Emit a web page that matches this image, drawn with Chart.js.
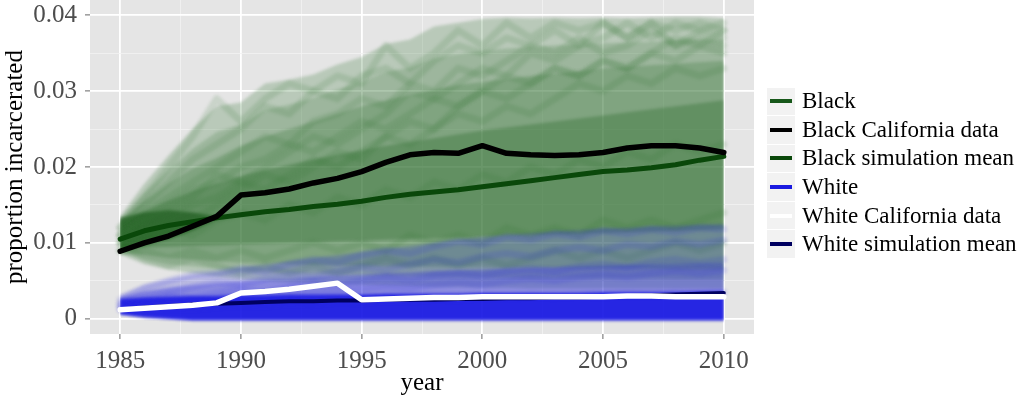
<!DOCTYPE html>
<html lang="en">
<head>
<meta charset="UTF-8">
<title>Proportion incarcerated</title>
<script src="https://cdn.jsdelivr.net/npm/chart.js@4.4.0/dist/chart.umd.min.js"></script>
<style>
  body { margin: 0; background: #fff; }
  #wrap { position: relative; width: 1024px; height: 398px; }
  #legend { position: absolute; left: 767px; top: 87px; font-family: "Liberation Serif", serif; font-size: 23px; color: #000; }
  .item { display: flex; align-items: center; height: 28.6px; white-space: nowrap; }
  .key { width: 28px; height: 27.6px; background: #f2f2f2; margin-right: 7px; display: flex; align-items: center; justify-content: center; }
  .key span { display: block; width: 22px; height: 4px; }
</style>
</head>
<body>
<div id="wrap">
  <canvas id="chart" width="1024" height="398"></canvas>
  <div id="legend"></div>
</div>
<script>
// years of the simulation / data
const years = [1985,1986,1987,1988,1989,1990,1991,1992,1993,1994,1995,1996,1997,
               1998,1999,2000,2001,2002,2003,2004,2005,2006,2007,2008,2009,2010];

const xTickLabels = [1985, 1990, 1995, 2000, 2005, 2010];
const yTickValues = [0, 0.01, 0.02, 0.03, 0.04];
const yTickLabels = ['0', '0.01', '0.02', '0.03', '0.04'];

// observed California data
const blackCA = [0.0089,0.0100,0.0109,0.0122,0.0135,0.0163,0.0166,0.0171,0.0179,0.0185,0.0194,0.0206,0.0216,
                 0.0219,0.0218,0.0228,0.0218,0.0216,0.0215,0.0216,0.0219,0.0225,0.0228,0.0228,0.0225,0.0219];
const whiteCA = [0.0012,0.0014,0.0016,0.0018,0.0021,0.0034,0.0036,0.0039,0.0043,0.0047,0.0025,0.0026,0.0027,
                 0.0028,0.0028,0.0029,0.0029,0.0029,0.0029,0.0029,0.0029,0.0030,0.0030,0.0029,0.0029,0.0029];

// simulation means
const blackMean = [0.0105,0.0116,0.0123,0.0128,0.0133,0.0137,0.0141,0.0144,0.0148,0.0151,0.0155,0.0160,0.0164,
                   0.0167,0.0170,0.0174,0.0178,0.0182,0.0186,0.0190,0.0194,0.0196,0.0199,0.0203,0.0209,0.0214];
const whiteMean = [0.0012,0.0015,0.0017,0.0019,0.0020,0.0021,0.0022,0.0023,0.0023,0.0024,0.0024,0.0025,0.0025,
                   0.0025,0.0026,0.0026,0.0027,0.0027,0.0028,0.0028,0.0029,0.0030,0.0031,0.0032,0.0033,0.0034];

// spread of the Black simulation runs (outer, upper, middle, dense, early core)
const blackOuterHi = [0.0135,0.0178,0.0215,0.0250,0.0280,0.0285,0.0310,0.0315,0.0322,0.0335,0.0345,0.0362,0.0368,
                      0.0385,0.0390,0.0395,0.0397,0.0396,0.0397,0.0396,0.0397,0.0396,0.0397,0.0398,0.0398,0.0396];
const blackOuterLo = [0.0085,0.0072,0.0065,0.0060,0.0056,0.0052,0.0050,0.0048,0.0047,0.0046,0.0045,0.0044,0.0043,
                      0.0042,0.0042,0.0041,0.0041,0.0040,0.0040,0.0040,0.0040,0.0040,0.0040,0.0040,0.0040,0.0040];
const blackUpperHi = [0.0133,0.0166,0.0196,0.0224,0.0246,0.0256,0.0275,0.0282,0.0291,0.0302,0.0312,0.0325,0.0331,
                      0.0343,0.0349,0.0353,0.0356,0.0358,0.0360,0.0361,0.0363,0.0364,0.0365,0.0367,0.0368,0.0368];
const blackUpperLo = [0.0086,0.0078,0.0072,0.0069,0.0066,0.0063,0.0061,0.0060,0.0059,0.0058,0.0057,0.0056,0.0056,
                      0.0055,0.0055,0.0054,0.0054,0.0053,0.0053,0.0053,0.0053,0.0053,0.0053,0.0052,0.0052,0.0052];
const blackMidHi = [0.0130,0.0155,0.0178,0.0198,0.0212,0.0228,0.0240,0.0250,0.0260,0.0270,0.0280,0.0288,0.0295,
                    0.0302,0.0308,0.0312,0.0316,0.0320,0.0323,0.0326,0.0330,0.0332,0.0334,0.0336,0.0338,0.0340];
const blackMidLo = [0.0088,0.0084,0.0080,0.0078,0.0076,0.0074,0.0073,0.0072,0.0071,0.0070,0.0070,0.0069,0.0069,
                    0.0068,0.0068,0.0068,0.0067,0.0067,0.0067,0.0066,0.0066,0.0066,0.0066,0.0065,0.0065,0.0065];
const blackDenseHi = [0.0128,0.0142,0.0156,0.0168,0.0178,0.0188,0.0196,0.0203,0.0210,0.0216,0.0222,0.0228,0.0233,
                      0.0238,0.0243,0.0248,0.0252,0.0256,0.0260,0.0264,0.0268,0.0272,0.0276,0.0280,0.0284,0.0288];
const blackDenseLo = [0.0092,0.0094,0.0095,0.0096,0.0097,0.0098,0.0099,0.0100,0.0101,0.0102,0.0103,0.0104,0.0105,
                      0.0106,0.0107,0.0108,0.0109,0.0110,0.0111,0.0112,0.0113,0.0114,0.0115,0.0116,0.0117,0.0118];
const blackCoreHi = [0.0133,0.0140,0.0143,0.0140,0.0135,0.0137,0.0141,0.0144,0.0148,0.0151,0.0155,0.0160,0.0164,
                     0.0167,0.0170,0.0174,0.0178,0.0182,0.0186,0.0190,0.0194,0.0196,0.0199,0.0203,0.0209,0.0214];
const blackCoreLo = [0.0090,0.0097,0.0105,0.0116,0.0131,0.0137,0.0141,0.0144,0.0148,0.0151,0.0155,0.0160,0.0164,
                     0.0167,0.0170,0.0174,0.0178,0.0182,0.0186,0.0190,0.0194,0.0196,0.0199,0.0203,0.0209,0.0214];

// spread of the White simulation runs
const whiteOuterHi = [0.0032,0.0045,0.0052,0.0058,0.0062,0.0068,0.0072,0.0076,0.0080,0.0084,0.0088,0.0092,0.0096,
                      0.0100,0.0104,0.0108,0.0110,0.0113,0.0115,0.0117,0.0119,0.0120,0.0122,0.0123,0.0124,0.0125];
const whiteMidHi = [0.0029,0.0036,0.0041,0.0044,0.0047,0.0049,0.0051,0.0053,0.0055,0.0057,0.0058,0.0060,0.0061,
                    0.0063,0.0064,0.0065,0.0066,0.0067,0.0068,0.0069,0.0070,0.0071,0.0072,0.0073,0.0073,0.0074];
const whiteDenseHi = [0.0026,0.0028,0.0029,0.0030,0.0030,0.0031,0.0031,0.0032,0.0032,0.0032,0.0032,0.0033,0.0033,
                      0.0033,0.0033,0.0034,0.0034,0.0034,0.0034,0.0034,0.0035,0.0035,0.0035,0.0035,0.0036,0.0036];
const whiteLo = [0.0006,0.0002,0.0000,-0.0002,-0.0002,-0.0002,-0.0002,-0.0002,-0.0002,-0.0002,-0.0002,-0.0002,-0.0002,
                 -0.0002,-0.0002,-0.0002,-0.0002,-0.0002,-0.0002,-0.0002,-0.0002,-0.0002,-0.0002,-0.0002,-0.0002,-0.0002];

// a few individual simulation runs
const blackRuns = [
  [0.012,0.016,0.020,0.024,0.029,0.026,0.029,0.031,0.030,0.032,0.031,0.036,0.033,0.035,0.038,0.036,0.039,0.037,0.039,0.038,0.039,0.037,0.039,0.038,0.039,0.038],
  [0.012,0.015,0.018,0.021,0.023,0.025,0.028,0.027,0.030,0.029,0.032,0.033,0.031,0.034,0.036,0.035,0.037,0.036,0.038,0.036,0.037,0.039,0.037,0.039,0.038,0.037],
  [0.011,0.014,0.016,0.018,0.020,0.022,0.024,0.023,0.026,0.027,0.029,0.028,0.031,0.030,0.033,0.032,0.034,0.036,0.035,0.037,0.035,0.036,0.038,0.036,0.037,0.036],
  [0.011,0.013,0.015,0.017,0.018,0.020,0.021,0.023,0.022,0.024,0.026,0.025,0.027,0.029,0.028,0.030,0.032,0.031,0.033,0.032,0.034,0.033,0.035,0.034,0.036,0.035],
  [0.010,0.012,0.013,0.015,0.016,0.018,0.017,0.019,0.021,0.020,0.022,0.024,0.023,0.025,0.027,0.026,0.028,0.027,0.029,0.031,0.030,0.032,0.031,0.033,0.032,0.033],
  [0.010,0.011,0.012,0.011,0.013,0.014,0.013,0.015,0.014,0.016,0.015,0.017,0.016,0.018,0.017,0.019,0.018,0.020,0.019,0.021,0.020,0.022,0.021,0.023,0.022,0.023],
  [0.009,0.009,0.008,0.009,0.008,0.009,0.008,0.009,0.010,0.009,0.010,0.009,0.011,0.010,0.011,0.010,0.012,0.011,0.012,0.011,0.013,0.012,0.013,0.012,0.013,0.014],
  [0.009,0.010,0.012,0.013,0.015,0.017,0.019,0.018,0.020,0.022,0.021,0.024,0.026,0.025,0.028,0.030,0.029,0.031,0.033,0.032,0.034,0.033,0.035,0.037,0.036,0.038],
  [0.010,0.008,0.007,0.008,0.007,0.006,0.007,0.006,0.007,0.006,0.007,0.008,0.007,0.008,0.007,0.008,0.007,0.008,0.009,0.008,0.009,0.008,0.009,0.010,0.009,0.010],
  [0.011,0.013,0.014,0.016,0.019,0.018,0.020,0.022,0.024,0.023,0.025,0.027,0.030,0.029,0.031,0.033,0.032,0.035,0.034,0.036,0.039,0.037,0.039,0.036,0.038,0.039]
];
const whiteRuns = [
  [0.0025,0.0040,0.0050,0.0058,0.0060,0.0066,0.0062,0.0072,0.0078,0.0074,0.0084,0.0090,0.0086,0.0095,0.0102,0.0098,0.0108,0.0104,0.0112,0.0108,0.0116,0.0112,0.0118,0.0114,0.0120,0.0118],
  [0.0020,0.0030,0.0035,0.0042,0.0048,0.0045,0.0052,0.0058,0.0055,0.0062,0.0068,0.0064,0.0072,0.0078,0.0074,0.0082,0.0086,0.0082,0.0090,0.0094,0.0090,0.0098,0.0095,0.0102,0.0098,0.0104],
  [0.0018,0.0024,0.0030,0.0028,0.0034,0.0038,0.0035,0.0042,0.0046,0.0043,0.0050,0.0054,0.0050,0.0057,0.0060,0.0056,0.0063,0.0066,0.0062,0.0069,0.0072,0.0068,0.0075,0.0078,0.0074,0.0078],
  [0.0015,0.0020,0.0024,0.0022,0.0027,0.0030,0.0028,0.0033,0.0036,0.0034,0.0039,0.0042,0.0040,0.0045,0.0048,0.0045,0.0050,0.0053,0.0050,0.0055,0.0058,0.0055,0.0060,0.0063,0.0060,0.0064],
  [0.0012,0.0014,0.0016,0.0015,0.0018,0.0020,0.0019,0.0022,0.0021,0.0024,0.0023,0.0026,0.0025,0.0028,0.0027,0.0030,0.0029,0.0031,0.0030,0.0032,0.0031,0.0033,0.0032,0.0034,0.0033,0.0035]
];

// legend entries
const legendItems = [
  { label: 'Black', color: '#17581a' },
  { label: 'Black California data', color: '#000000' },
  { label: 'Black simulation mean', color: '#0a480a' },
  { label: 'White', color: '#1a1ae0' },
  { label: 'White California data', color: '#ffffff' },
  { label: 'White simulation mean', color: '#000060' }
];

const datasets = [];
let order = 1000; // higher order is drawn first

function pts(vals) {
  return years.map((yr, i) => ({ x: yr, y: vals[i] }));
}
function addLine(vals, color, width) {
  datasets.push({
    data: pts(vals), borderColor: color, borderWidth: width, pointRadius: 0,
    fill: false, tension: 0, borderJoinStyle: 'round', borderCapStyle: 'round', order: order--
  });
}
function addBand(hi, lo, color) {
  datasets.push({ data: pts(lo), borderColor: 'rgba(0,0,0,0)', borderWidth: 0, pointRadius: 0, fill: false, order: order-- });
  datasets.push({ data: pts(hi), borderColor: 'rgba(0,0,0,0)', borderWidth: 0, pointRadius: 0,
                  backgroundColor: color, fill: '-1', order: order-- });
}

// Black runs cloud
addBand(blackOuterHi, blackOuterLo, 'rgba(45,112,45,0.24)');
addBand(blackUpperHi, blackUpperLo, 'rgba(45,112,45,0.20)');
addBand(blackMidHi, blackMidLo, 'rgba(45,112,45,0.26)');
addBand(blackDenseHi, blackDenseLo, 'rgba(40,105,40,0.34)');
addBand(blackCoreHi, blackCoreLo, 'rgba(10,75,10,0.55)');
blackRuns.forEach(r => addLine(r, 'rgba(45,115,45,0.15)', 7));

// White runs cloud
addBand(whiteOuterHi, whiteLo, 'rgba(45,45,215,0.22)');
addBand(whiteMidHi, whiteLo, 'rgba(40,40,220,0.32)');
addBand(whiteDenseHi, whiteLo, 'rgba(20,20,228,0.85)');
whiteRuns.forEach(r => addLine(r, 'rgba(35,35,230,0.14)', 7));
const lastCloud = datasets.length - 1;

// means and data
addLine(blackMean, '#0a480a', 5);
addLine(whiteMean, '#000060', 4);
addLine(blackCA, '#000000', 5.5);
addLine(whiteCA, '#ffffff', 5.5);

const xGrid = [];
xTickLabels.forEach((v, i) => {
  xGrid.push(v);
  if (i < xTickLabels.length - 1) xGrid.push((v + xTickLabels[i + 1]) / 2);
});
const yGrid = [];
yTickValues.forEach((v, i) => {
  yGrid.push(v);
  if (i < yTickValues.length - 1) yGrid.push((v + yTickValues[i + 1]) / 2);
});
const isXMajor = v => xTickLabels.some(t => Math.abs(t - v) < 1e-6);
const yMajorIndex = v => yTickValues.findIndex(t => Math.abs(t - v) < 1e-9);

function noPad(s) {
  s.paddingTop = 0; s.paddingBottom = 0; s.paddingLeft = 0; s.paddingRight = 0;
}

const panel = {
  id: 'panel',
  beforeDraw(chart) {
    const { ctx, chartArea: a } = chart;
    ctx.save();
    ctx.fillStyle = '#e5e5e5';
    ctx.fillRect(a.left, a.top, a.right - a.left, a.bottom - a.top);
    ctx.restore();
  }
};

// soften the edges of the simulation cloud, keep the summary lines sharp
const soften = {
  id: 'soften',
  beforeDatasetsDraw(chart) { chart.ctx.filter = 'blur(1.5px)'; },
  afterDatasetDraw(chart, args) { if (args.index === lastCloud) chart.ctx.filter = 'none'; },
  afterDatasetsDraw(chart) { chart.ctx.filter = 'none'; }
};

const serif = { family: '"Liberation Serif", serif', size: 25, lineHeight: 1.2 };

new Chart(document.getElementById('chart'), {
  type: 'line',
  data: { datasets },
  plugins: [panel, soften],
  options: {
    responsive: false,
    animation: false,
    devicePixelRatio: 1,
    layout: { padding: { left: 0, top: 0, right: 270, bottom: 0 } },
    plugins: { legend: { display: false }, tooltip: { enabled: false } },
    scales: {
      x: {
        type: 'linear', min: 1983.75, max: 2011.25,
        afterBuildTicks: s => { s.ticks = xGrid.map(v => ({ value: v })); },
        afterFit: s => { s.height = 64; noPad(s); },
        ticks: {
          autoSkip: false, maxRotation: 0, padding: 7, color: '#4d4d4d', font: serif,
          callback: v => isXMajor(v) ? String(v) : ''
        },
        grid: {
          color: c => isXMajor(c.tick.value) ? '#ffffff' : '#f2f2f2',
          lineWidth: c => isXMajor(c.tick.value) ? 1.8 : 0.8,
          tickColor: c => isXMajor(c.tick.value) ? '#666666' : 'rgba(0,0,0,0)',
          tickLength: 5, tickWidth: 1
        },
        border: { display: false },
        title: { display: true, text: 'year', color: '#000', font: serif, padding: 0 }
      },
      y: {
        type: 'linear', min: -0.002, max: 0.042,
        afterBuildTicks: s => { s.ticks = yGrid.map(v => ({ value: v })); },
        afterFit: s => { s.width = 90; noPad(s); },
        ticks: {
          autoSkip: false, padding: 8, color: '#4d4d4d', font: serif,
          callback: v => { const i = yMajorIndex(v); return i >= 0 ? yTickLabels[i] : ''; }
        },
        grid: {
          color: c => yMajorIndex(c.tick.value) >= 0 ? '#ffffff' : '#f2f2f2',
          lineWidth: c => yMajorIndex(c.tick.value) >= 0 ? 1.8 : 0.8,
          tickColor: c => yMajorIndex(c.tick.value) >= 0 ? '#666666' : 'rgba(0,0,0,0)',
          tickLength: 5, tickWidth: 1
        },
        border: { display: false },
        title: { display: true, text: 'proportion incarcerated', color: '#000', font: serif, padding: 0 }
      }
    }
  }
});

// legend (ggplot style keys)
const legend = document.getElementById('legend');
legendItems.forEach(it => {
  const row = document.createElement('div');
  row.className = 'item';
  row.innerHTML = '<div class="key"><span style="background:' + it.color + '"></span></div>' + it.label;
  legend.appendChild(row);
});
</script>
</body>
</html>
